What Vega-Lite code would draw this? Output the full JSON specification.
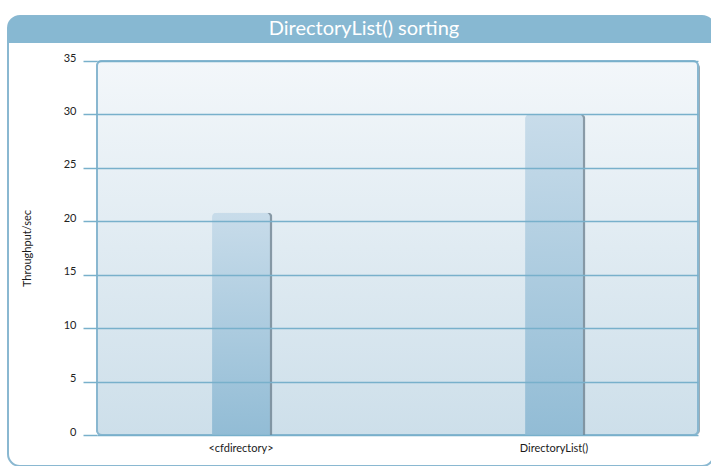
{
  "$schema": "https://vega.github.io/schema/vega-lite/v6.json",
  "padding": {"left": 7, "top": 15, "right": 0, "bottom": 0},
  "background": "white",
  "spacing": -415,
  "align": "none",
  "config": {
    "view": {"stroke": null},
    "font": "Lato"
  },
  "vconcat": [
    {
      "width": 601,
      "height": 450,
      "data": {"values": [{"part": "header", "title": "DirectoryList() sorting"}]},
      "layer": [
        {
          "mark": {"type": "rect", "fill": "white", "stroke": "#8ab8d1", "strokeWidth": 2, "cornerRadius": 12},
          "encoding": {
            "x": {"datum": 0, "type": "quantitative", "scale": {"domain": [0, 1], "range": [-89, 617]}, "axis": null},
            "x2": {"datum": 1}
          }
        },
        {
          "mark": {"type": "rect", "color": "#87b8d2", "cornerRadiusTopLeft": 12, "cornerRadiusTopRight": 12},
          "encoding": {
            "x": {"datum": 0, "type": "quantitative"},
            "x2": {"datum": 1},
            "y": {
              "field": "part",
              "type": "nominal",
              "scale": {"paddingInner": 0.94, "paddingOuter": 0.47, "align": 0},
              "axis": null
            }
          }
        },
        {
          "mark": {"type": "text", "color": "white", "fontSize": 20, "font": "Lato", "dx": 3, "dy": -1, "align": "center", "baseline": "middle"},
          "encoding": {
            "text": {"field": "title"},
            "x": {"datum": 0.5, "type": "quantitative"},
            "y": {"field": "part", "type": "nominal", "band": 0.5}
          }
        }
      ]
    },
    {
      "width": 601,
      "height": 374,
      "data": {"values": [
        {"method": "<cfdirectory>", "throughput": 20.8},
        {"method": "DirectoryList()", "throughput": 30}
      ]},
      "encoding": {
        "y": {
          "field": "throughput",
          "type": "quantitative",
          "scale": {"domain": [0, 35], "nice": false},
          "axis": {
            "title": "Throughput/sec",
            "titleFontSize": 11,
            "titleLineHeight": 14,
            "titleFontWeight": "normal",
            "titleColor": "#1a1a1a",
            "titleFont": "Lato",
            "titlePadding": 31,
            "values": [0, 5, 10, 15, 20, 25, 30, 35],
            "domain": false,
            "tickSize": 14,
            "tickColor": "#78b0cb",
            "tickWidth": 1.5,
            "grid": true,
            "gridColor": "#78b0cb",
            "gridWidth": 1.5,
            "gridOpacity": 1,
            "labelPadding": 7,
            "labelOffset": -3,
            "labelFontSize": 11,
            "labelColor": "#222222",
            "labelFont": "Lato",
            "zindex": 1
          }
        }
      },
      "layer": [
        {
          "mark": {"type": "rect", "color": "#7f95a3", "opacity": 0.55, "xOffset": 2, "yOffset": 2, "cornerRadius": 5},
          "encoding": {"y": {"datum": 35}, "y2": {"datum": 0}}
        },
        {
          "mark": {
            "type": "rect",
            "cornerRadius": 5,
            "stroke": "#89b7d0",
            "strokeWidth": 2,
            "fill": {"gradient": "linear", "x1": 0, "y1": 0, "x2": 0, "y2": 1, "stops": [{"offset": 0, "color": "#f3f7fa"}, {"offset": 1, "color": "#cddfea"}]}
          },
          "encoding": {"y": {"datum": 35}, "y2": {"datum": 0}}
        },
        {
          "mark": {"type": "bar", "color": "#5f7584", "opacity": 0.7, "xOffset": 2.5, "cornerRadiusTopLeft": 4, "cornerRadiusTopRight": 4},
          "encoding": {
            "x": {
              "field": "method",
              "type": "nominal",
              "sort": null,
              "scale": {"paddingInner": 0.815, "paddingOuter": 0.3675},
              "axis": {"title": null, "labelAngle": 0, "domain": false, "ticks": false, "labelPadding": 7, "labelFontSize": 11, "labelColor": "#1a1a1a", "labelFont": "Lato"}
            },
            "y": {"field": "throughput", "type": "quantitative"}
          }
        },
        {
          "mark": {
            "type": "bar",
            "cornerRadiusTopLeft": 4,
            "cornerRadiusTopRight": 4,
            "fill": {"gradient": "linear", "x1": 0, "y1": 0, "x2": 0, "y2": 1, "stops": [{"offset": 0, "color": "#c8dcea"}, {"offset": 1, "color": "#92bcd5"}]}
          },
          "encoding": {
            "x": {"field": "method", "type": "nominal", "sort": null},
            "y": {"field": "throughput", "type": "quantitative"}
          }
        }
      ]
    }
  ]
}
